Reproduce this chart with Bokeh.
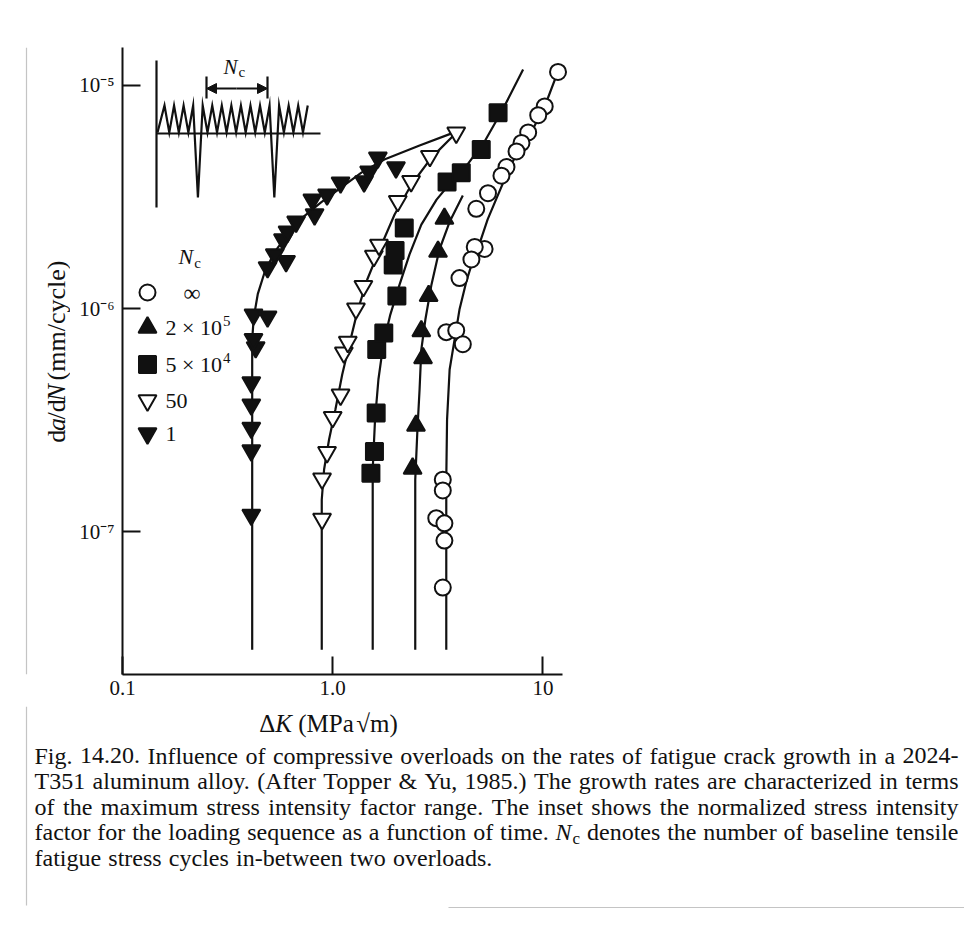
import glob
import os
import math

from bokeh.plotting import figure
from bokeh.layouts import row, column
from bokeh.models import Range1d, LinearScale, FixedTicker, Label, Arrow, NormalHead
from bokeh.embed import file_html
from bokeh.resources import INLINE

FONT = "Liberation Serif"

# ---------------- data ----------------
# N_c = infinity (open circles)
dk_inf = [11.8, 10.2, 9.50, 8.51, 7.91, 7.49, 6.71, 6.35, 5.48, 4.82, 5.28, 4.74,
          4.57, 4.01, 3.47, 3.87, 4.16, 3.34, 3.34, 3.11, 3.40, 3.40, 3.34]
rate_inf = [1.15e-5, 8.06e-6, 7.36e-6, 6.16e-6, 5.53e-6, 5.06e-6, 4.31e-6, 3.94e-6,
            3.29e-6, 2.80e-6, 1.85e-6, 1.89e-6, 1.66e-6, 1.37e-6, 7.84e-7, 7.98e-7,
            6.92e-7, 1.71e-7, 1.53e-7, 1.15e-7, 1.09e-7, 9.12e-8, 5.62e-8]

# N_c = 2 x 10^5 (filled up triangles)
dk_2e5 = [2.40, 2.49, 2.69, 2.64, 2.86, 3.17, 3.40]
rate_2e5 = [1.92e-7, 2.99e-7, 6.0e-7, 7.93e-7, 1.14e-6, 1.80e-6, 2.53e-6]

# N_c = 5 x 10^4 (filled squares)
dk_5e4 = [1.52, 1.58, 1.61, 1.62, 1.75, 2.02, 1.94, 1.98, 2.19, 3.50, 4.09, 5.09, 6.12]
rate_5e4 = [1.83e-7, 2.29e-7, 3.40e-7, 6.55e-7, 7.78e-7, 1.14e-6, 1.57e-6, 1.82e-6,
            2.30e-6, 3.69e-6, 4.06e-6, 5.17e-6, 7.55e-6]

# N_c = 50 (open down triangles)
dk_50 = [0.89, 0.89, 0.94, 1.00, 1.09, 1.13, 1.18, 1.29, 1.40, 1.57, 1.66, 2.04, 2.36, 2.90, 3.87]
rate_50 = [1.14e-7, 1.73e-7, 2.27e-7, 3.26e-7, 4.11e-7, 6.35e-7, 7.08e-7, 1.0e-6,
           1.26e-6, 1.72e-6, 1.93e-6, 3.03e-6, 3.72e-6, 4.82e-6, 6.14e-6]

# N_c = 1 (filled down triangles)
dk_1 = [0.41, 0.41, 0.41, 0.41, 0.41, 0.43, 0.42, 0.42, 0.49, 0.49, 0.60, 0.53, 0.58,
        0.61, 0.67, 0.82, 0.80, 0.94, 1.09, 1.41, 1.49, 1.64, 2.00]
rate_1 = [1.19e-7, 2.31e-7, 2.92e-7, 3.71e-7, 4.66e-7, 6.7e-7, 7.3e-7, 9.4e-7, 9.2e-7,
          1.53e-6, 1.63e-6, 1.75e-6, 2.04e-6, 2.21e-6, 2.45e-6, 2.64e-6, 3.08e-6,
          3.24e-6, 3.67e-6, 3.71e-6, 4.11e-6, 4.75e-6, 4.29e-6]

# hand-drawn trend curves
curve_inf_dk = [3.47, 3.47, 3.50, 3.60, 3.80, 4.01, 4.32, 4.63, 5.00, 5.46, 6.01, 6.96,
                7.85, 8.99, 10.2, 11.8]
curve_inf_rate = [2.96e-8, 1.71e-7, 3.18e-7, 5.33e-7, 7.26e-7, 9.90e-7, 1.32e-6, 1.63e-6,
                  1.96e-6, 2.51e-6, 3.11e-6, 4.31e-6, 5.32e-6, 6.41e-6, 8.05e-6, 1.156e-5]

curve_2e5_dk = [2.47, 2.47, 2.53, 2.59, 2.64, 2.76, 2.95, 3.22, 3.60, 4.16]
curve_2e5_rate = [2.96e-8, 1.71e-7, 2.87e-7, 4.34e-7, 6.55e-7, 8.93e-7, 1.28e-6, 1.84e-6,
                  2.45e-6, 3.21e-6]

curve_5e4_dk = [1.55, 1.55, 1.59, 1.65, 1.74, 1.88, 2.08, 2.32, 2.64, 3.12, 3.68, 4.38,
                5.28, 6.44, 8.05]
curve_5e4_rate = [2.96e-8, 1.90e-7, 3.18e-7, 4.81e-7, 6.90e-7, 9.40e-7, 1.28e-6, 1.75e-6,
                  2.38e-6, 3.08e-6, 3.71e-6, 4.43e-6, 5.61e-6, 7.80e-6, 1.18e-5]

curve_50_dk = [0.887, 0.887, 0.910, 0.961, 1.03, 1.11, 1.20, 1.31, 1.46, 1.67, 1.97, 2.37,
               2.95, 3.87]
curve_50_rate = [2.96e-8, 1.39e-7, 1.90e-7, 2.59e-7, 3.53e-7, 5.06e-7, 6.90e-7, 9.69e-7,
                 1.35e-6, 1.84e-6, 2.64e-6, 3.60e-6, 4.75e-6, 6.14e-6]

curve_1_dk = [0.414, 0.414, 0.421, 0.440, 0.476, 0.531, 0.619, 0.730, 0.880, 1.10, 1.37,
              1.76, 2.59, 3.68]
curve_1_rate = [2.96e-8, 7.26e-7, 9.11e-7, 1.16e-6, 1.47e-6, 1.80e-6, 2.19e-6, 2.59e-6,
                2.99e-6, 3.49e-6, 4.07e-6, 4.66e-6, 5.38e-6, 6.10e-6]

x_ticks = [0.1, 1.0, 10.0]
x_tick_labels = ["0.1", "1.0", "10"]
y_ticks = [1e-7, 1e-6, 1e-5]
y_tick_labels = ["10\u207b\u2077", "10\u207b\u2076", "10\u207b\u2075"]
x_axis_end = 12.4

# legend entries: (base text, superscript)
legend_labels = [("\u221e", ""), ("2 \u00d7 10", "5"), ("5 \u00d7 10", "4"), ("50", ""), ("1", "")]

caption_lines = [
    "Fig. 14.20. Influence of compressive overloads on the rates of fatigue crack growth in a 2024-",
    "T351 aluminum alloy. (After Topper & Yu, 1985.) The growth rates are characterized in terms",
    "of the maximum stress intensity factor range. The inset shows the normalized stress intensity",
    "factor for the loading sequence as a function of time. {Nc} denotes the number of baseline tensile",
    "fatigue stress cycles in-between two overloads.",
]

# ---------------- text measuring helpers ----------------
try:
    from PIL import ImageFont
except Exception:
    ImageFont = None


def _font_path(fname):
    roots = ["/usr/share/fonts", "/usr/local/share/fonts",
             os.path.expanduser("~/.fonts"), os.path.expanduser("~/.local/share/fonts")]
    for r in roots:
        hits = glob.glob(os.path.join(r, "**", fname), recursive=True)
        if hits:
            return hits[0]
    return None


_FP = {"normal": _font_path("LiberationSerif-Regular.ttf"),
       "italic": _font_path("LiberationSerif-Italic.ttf")}
_FC = {}


def text_w(s, size, style="normal"):
    path = _FP.get(style)
    if ImageFont is not None and path:
        f = _FC.get(path)
        if f is None:
            try:
                f = ImageFont.truetype(path, 100)
            except Exception:
                f = None
            _FC[path] = f
        if f is not None:
            return f.getlength(s) * size / 100.0
    return 0.47 * size * len(s)


INK = "#111111"
EDGE = "#c4c4c4"

# ---------------- page geometry (picture pixels) ----------------
PAGE_W, PAGE_H = 964, 930
YL_W = 70                  # strip for the y title
TOP_H = 706                # height of plot row
FL, FT, FB = 122, 47, 674  # frame edges
PX_PER_DEC = 210.2
FR = 572                   # frame extends a little past the axis end so edge markers are not cut
x_frame_end = 0.1 * 10 ** ((FR - FL) / PX_PER_DEC)

# ---------------- main figure ----------------
MAIN_W = PAGE_W - YL_W
p = figure(width=MAIN_W, height=TOP_H, x_axis_type="log", y_axis_type="log",
           x_range=Range1d(0.1, x_frame_end), y_range=Range1d(2.29e-8, 1.48e-5),
           output_backend="svg", toolbar_location=None,
           min_border_left=FL - YL_W, min_border_right=PAGE_W - FR,
           min_border_top=FT, min_border_bottom=TOP_H - FB)
p.grid.visible = False
p.outline_line_color = None
p.background_fill_color = "white"
p.border_fill_color = "white"

p.xaxis.ticker = FixedTicker(ticks=x_ticks)
p.xaxis.major_label_overrides = dict(zip(x_ticks, x_tick_labels))
p.xaxis.bounds = (0.1, x_axis_end)
p.yaxis.ticker = FixedTicker(ticks=y_ticks)
p.yaxis.major_label_overrides = dict(zip(y_ticks, y_tick_labels))
for ax in (p.xaxis[0], p.yaxis[0]):
    ax.axis_line_width = 2
    ax.axis_line_color = INK
    ax.major_tick_in = 18
    ax.major_tick_out = 0
    ax.major_tick_line_width = 2
    ax.major_tick_line_color = INK
    ax.minor_tick_line_color = None
    ax.major_label_text_font = FONT
    ax.major_label_text_font_size = "21px"
    ax.major_label_text_color = INK
p.xaxis.major_label_standoff = 6
p.yaxis.major_label_standoff = 8

# overlay coordinate system in picture pixels (inset and legend)
p.extra_x_ranges = {"px": Range1d(FL, FR)}
p.extra_y_ranges = {"px": Range1d(FB, FT)}
p.extra_x_scales = {"px": LinearScale()}
p.extra_y_scales = {"px": LinearScale()}
PX = dict(x_range_name="px", y_range_name="px")

# curves
for cx, cy in [(curve_inf_dk, curve_inf_rate), (curve_2e5_dk, curve_2e5_rate),
               (curve_5e4_dk, curve_5e4_rate), (curve_50_dk, curve_50_rate),
               (curve_1_dk, curve_1_rate)]:
    p.line(cx, cy, line_width=2.2, line_color=INK)

# markers
MK = [("circle", dk_inf, rate_inf, "white", 16),
      ("triangle", dk_2e5, rate_2e5, INK, 18),
      ("square", dk_5e4, rate_5e4, INK, 17),
      ("inverted_triangle", dk_50, rate_50, "white", 18),
      ("inverted_triangle", dk_1, rate_1, INK, 18)]
for m, xs, ys, fc, sz in MK:
    p.scatter(xs, ys, marker=m, size=sz, fill_color=fc, line_color=INK, line_width=2)

# ---------------- inset: loading sequence ----------------
p.line([156, 156], [60, 207], line_width=2.2, line_color=INK, **PX)
p.line([156, 320], [133, 133], line_width=2.2, line_color=INK, **PX)
n_peaks, first_peak, pitch = 16, 164.0, 9.55
spike_after = (3, 11)
sx, sy = [157.0], [132.0]
for i in range(n_peaks):
    xp = first_peak + i * pitch
    sx.append(xp)
    sy.append(105.0)
    if i < n_peaks - 1:
        sx.append(xp + pitch / 2)
        sy.append(197.0 if i in spike_after else 132.0)
p.line(sx, sy, line_width=2.2, line_color=INK, line_join="miter", **PX)
p.segment(x0=[206, 267], y0=[76, 76], x1=[206, 267], y1=[98, 98], line_width=2.2, line_color=INK, **PX)
p.add_layout(Arrow(x_start=236, y_start=88, x_end=206, y_end=88, line_width=2, line_color=INK,
                   end=NormalHead(size=10, fill_color=INK, line_color=INK), **PX))
p.add_layout(Arrow(x_start=236, y_start=88, x_end=267, y_end=88, line_width=2, line_color=INK,
                   end=NormalHead(size=10, fill_color=INK, line_color=INK), **PX))


def add_text(fig, X, Y, text, size, style="normal", align="left", angle=0.0, names=None):
    """Place text with its vertical middle at picture pixel (X, Y) in a figure."""
    kw = names or {}
    fig.add_layout(Label(x=X, y=Y, text=text, text_font=FONT, text_font_size=f"{size}px",
                         text_font_style=style, text_color=INK, text_align=align,
                         text_baseline="middle", angle=angle, **kw))


def add_Nc(fig, x, y_mid, size, names=None):
    add_text(fig, x, y_mid, "N", size, "italic", names=names)
    add_text(fig, x + text_w("N", size, "italic") + 1, y_mid + 0.28 * size, "c",
             round(size * 0.7), names=names)


add_Nc(p, 223, 66, 21, names=PX)

# ---------------- legend ----------------
leg_y = [292, 327, 364, 400, 433]
leg_mk = [("circle", "white", 16), ("triangle", INK, 18), ("square", INK, 17),
          ("inverted_triangle", "white", 18), ("inverted_triangle", INK, 18)]
add_Nc(p, 178, 256, 22, names=PX)
LS = 22
for (m, fc, sz), yy, (lab, sup) in zip(leg_mk, leg_y, legend_labels):
    p.scatter([147], [yy], marker=m, size=sz, fill_color=fc, line_color=INK, line_width=2, **PX)
    x0 = 183 if lab == "\u221e" else 165
    add_text(p, x0, yy, lab, 24 if lab == "\u221e" else LS, names=PX)
    if sup:
        add_text(p, x0 + text_w(lab, LS) + 1, yy - 7, sup, 15, names=PX)


def blank_fig(w, h, x0, y0):
    f = figure(width=w, height=h, x_range=Range1d(x0, x0 + w), y_range=Range1d(y0 + h, y0),
               output_backend="svg", toolbar_location=None,
               x_axis_location=None, y_axis_location=None,
               min_border=0, min_border_left=0, min_border_right=0,
               min_border_top=0, min_border_bottom=0)
    f.grid.visible = False
    f.outline_line_color = None
    f.background_fill_color = "white"
    f.border_fill_color = "white"
    return f


# ---------------- y title strip ----------------
ylab = blank_fig(YL_W, TOP_H, 0, 0)
ylab.line([26, 26], [0, TOP_H], line_width=1.2, line_color=EDGE)
yt = [("d", "normal", 0), ("a", "italic", 0), ("/d", "normal", 0), ("N", "italic", 0),
      ("(mm/cycle)", "normal", 1)]
YS = 26
sp = text_w(" ", YS)
tot = sum(text_w(t, YS, s) + g * sp for t, s, g in yt)
cy = 350 + tot / 2
for t, s, g in yt:
    cy -= g * sp
    add_text(ylab, 56, cy, t, YS, s, angle=math.pi / 2)
    cy -= text_w(t, YS, s)

# ---------------- bottom strip: x title and caption ----------------
cap = blank_fig(PAGE_W, PAGE_H - TOP_H, 0, TOP_H)
cap.line([26, 26], [TOP_H, 905], line_width=1.2, line_color=EDGE)
cap.line([448, PAGE_W], [907, 907], line_width=1.2, line_color=EDGE)

xt = [("\u0394", "normal", 0), ("K", "italic", 0), ("(MPa", "normal", 1), ("\u221a", "normal", 0.4),
      ("m)", "normal", 0)]
XS = 25
sp = text_w(" ", XS)
tot = sum(text_w(t, XS, s) + g * sp for t, s, g in xt)
cx = 328 - tot / 2
for t, s, g in xt:
    cx += g * sp
    add_text(cap, cx, 723, t, XS, s)
    cx += text_w(t, XS, s)

CS = 24
CX0, CX1 = 34, 958
cap_mid = [755, 780.5, 806, 831.5, 857]
for li, (line, ym) in enumerate(zip(caption_lines, cap_mid)):
    words = line.split(" ")
    widths = []
    for w in words:
        if w == "{Nc}":
            widths.append(text_w("N", CS, "italic") + 1 + text_w("c", round(CS * 0.7)))
        else:
            widths.append(text_w(w, CS))
    if li < len(caption_lines) - 1:
        gap = (CX1 - CX0 - sum(widths)) / (len(words) - 1)
    else:
        gap = text_w(" ", CS) * 1.2
    xw = CX0
    for w, wd in zip(words, widths):
        if w == "{Nc}":
            add_Nc(cap, xw, ym, CS)
        else:
            add_text(cap, xw, ym, w, CS)
        xw += wd + gap

page = column(row(ylab, p, spacing=0), cap, spacing=0)
open("out.html", "w").write(file_html(page, INLINE))
